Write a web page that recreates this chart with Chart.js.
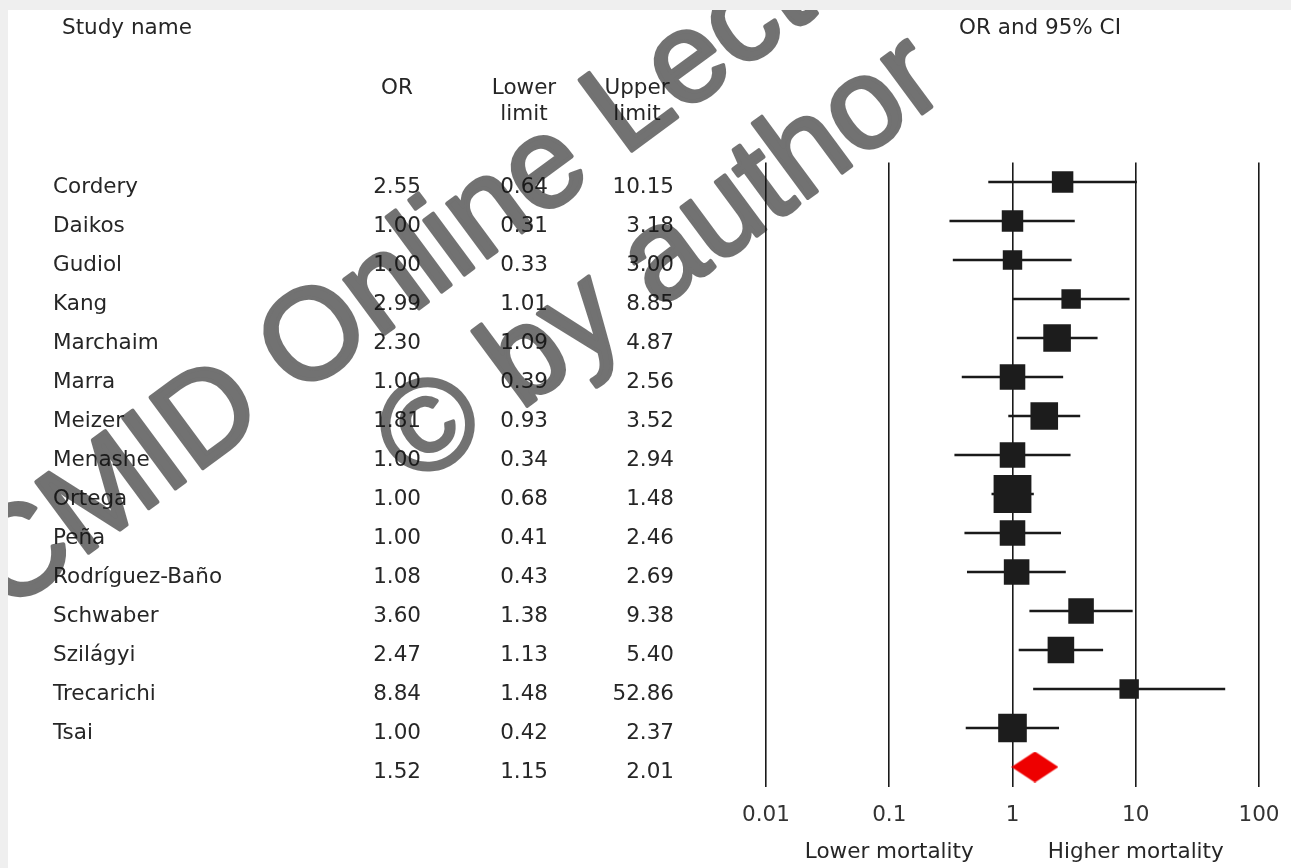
<!DOCTYPE html>
<html>
<head>
<meta charset="utf-8">
<script src="https://cdn.jsdelivr.net/npm/chart.js@4.4.1/dist/chart.umd.min.js"></script>
<style>
  html, body { margin: 0; padding: 0; width: 1291px; height: 868px; overflow: hidden; background: #efefef; }
  #wrap { position: absolute; left: 8px; top: 10px; width: 1283px; height: 858px; background: #ffffff; }
  canvas { display: block; }
</style>
</head>
<body>
<div id="wrap"><canvas id="forest" width="1283" height="858"></canvas></div>
<script>
// Per-study odds ratios with 95% confidence limits
const studies = ['Cordery', 'Daikos', 'Gudiol', 'Kang', 'Marchaim', 'Marra', 'Meizer', 'Menashe',
  'Ortega', 'Peña', 'Rodríguez-Baño', 'Schwaber', 'Szilágyi', 'Trecarichi', 'Tsai'];
const oddsRatio  = [2.55, 1.00, 1.00, 2.99, 2.30, 1.00, 1.81, 1.00, 1.00, 1.00, 1.08, 3.60, 2.47, 8.84, 1.00];
const lowerLimit = [0.64, 0.31, 0.33, 1.01, 1.09, 0.39, 0.93, 0.34, 0.68, 0.41, 0.43, 1.38, 1.13, 1.48, 0.42];
const upperLimit = [10.15, 3.18, 3.00, 8.85, 4.87, 2.56, 3.52, 2.94, 1.48, 2.46, 2.69, 9.38, 5.40, 52.86, 2.37];
// Relative study weights (%), shown as the area of each square
const studyWeight = [4.70, 4.70, 3.85, 3.85, 7.77, 6.67, 7.77, 6.67, 14.60, 6.67, 6.67, 6.67, 7.21, 3.85, 8.36];
// Pooled estimate
const pooledOR = 1.52;
const pooledLower = 1.15;
const pooledUpper = 2.01;
// Odds-ratio axis
const axisTicks = [0.01, 0.1, 1, 10, 100];
const axisTickLabels = ['0.01', '0.1', '1', '10', '100'];

const POOLED_ROW = 'Pooled';
const rows = studies.concat([POOLED_ROW]);

const TEXT = '#262626';
const FONT = '"DejaVu Sans", sans-serif';
const FONT_PX = 21.5;

// square side in px from weight (area proportional to weight)
const squareSide = w => 9.9 * Math.sqrt(w);

// red summary diamond as a point image
function makeDiamond(w, h) {
  const c = document.createElement('canvas');
  c.width = w; c.height = h;
  const g = c.getContext('2d');
  g.fillStyle = '#ee0000';
  g.beginPath();
  g.moveTo(0, h / 2);
  g.lineTo(w / 2, 0);
  g.lineTo(w, h / 2);
  g.lineTo(w / 2, h);
  g.closePath();
  g.fill();
  return c;
}
const diamond = makeDiamond(47, 31);

const fmt = v => v.toFixed(2);

// study table on the left, headers and axis captions
const tablePlugin = {
  id: 'forestTable',
  afterDraw(chart) {
    const ctx = chart.ctx;
    const y = chart.scales.y;
    const x = chart.scales.x;
    ctx.save();
    ctx.fillStyle = TEXT;
    ctx.font = FONT_PX + 'px ' + FONT;
    ctx.textBaseline = 'middle';

    // headers
    ctx.textAlign = 'left';
    ctx.fillText('Study name', 54, 18);
    ctx.textAlign = 'center';
    ctx.fillText('OR', 389, 78);
    ctx.fillText('Lower', 516, 78);
    ctx.fillText('limit', 516, 104);
    ctx.fillText('Upper', 629, 78);
    ctx.fillText('limit', 629, 104);
    ctx.fillText('OR and 95% CI', 1032, 18);

    // rows
    rows.forEach((name, i) => {
      const py = y.getPixelForValue(i) + 5;
      const isPooled = name === POOLED_ROW;
      const or = isPooled ? pooledOR : oddsRatio[i];
      const lo = isPooled ? pooledLower : lowerLimit[i];
      const hi = isPooled ? pooledUpper : upperLimit[i];
      if (!isPooled) {
        ctx.textAlign = 'left';
        ctx.fillText(name, 45, py);
      }
      ctx.textAlign = 'right';
      ctx.fillText(fmt(or), 413, py);
      ctx.fillText(fmt(lo), 540, py);
      ctx.fillText(fmt(hi), 666, py);
    });

    // direction captions under the axis
    ctx.textAlign = 'center';
    ctx.fillText('Lower mortality', x.getPixelForValue(0.1), 842);
    ctx.fillText('Higher mortality', x.getPixelForValue(10), 842);
    ctx.restore();
  }
};

// lecture watermark laid over the figure (drawn opaque on a layer, then blended)
const watermarkPlugin = {
  id: 'watermark',
  afterDraw(chart) {
    const ctx = chart.ctx;
    const layer = document.createElement('canvas');
    layer.width = chart.width;
    layer.height = chart.height;
    const g = layer.getContext('2d');
    g.fillStyle = '#141414';
    g.strokeStyle = '#141414';
    g.lineWidth = 4;
    g.lineJoin = 'round';
    g.font = '128px "Liberation Sans", sans-serif';
    g.textBaseline = 'alphabetic';
    g.textAlign = 'left';
    const ang = -36.5 * Math.PI / 180;
    const put = (text, px, py) => {
      g.save();
      g.translate(px, py);
      g.rotate(ang);
      g.fillText(text, 0, 0);
      g.strokeText(text, 0, 0);
      g.restore();
    };
    put('CMID Online Lecture', -2, 604);
    put('© by author', 408, 478);
    ctx.save();
    ctx.globalAlpha = 0.6;
    ctx.drawImage(layer, 0, 0);
    ctx.restore();
  }
};

new Chart(document.getElementById('forest'), {
  type: 'bar',
  data: {
    labels: rows,
    datasets: [
      {
        type: 'scatter',
        label: 'Odds ratio',
        data: studies.map((s, i) => ({ x: oddsRatio[i], y: s })),
        pointStyle: 'rect',
        pointRadius: studyWeight.map(w => squareSide(w) / Math.SQRT2),
        pointBackgroundColor: '#1c1c1c',
        pointBorderWidth: 0,
        showLine: false,
        order: 0
      },
      {
        type: 'scatter',
        label: 'Pooled',
        data: [{ x: pooledOR, y: POOLED_ROW }],
        pointStyle: diamond,
        showLine: false,
        order: 0
      },
      {
        label: '95% CI',
        data: rows.map((r, i) => i < studies.length ? [lowerLimit[i], upperLimit[i]] : null),
        backgroundColor: '#1a1a1a',
        barThickness: 2,
        borderWidth: 0,
        order: 1
      }
    ]
  },
  options: {
    indexAxis: 'y',
    responsive: false,
    animation: false,
    layout: { padding: { left: 758, top: 152.5, right: 32, bottom: 41.5 } },
    plugins: { legend: { display: false }, tooltip: { enabled: false } },
    scales: {
      x: {
        type: 'logarithmic',
        min: 0.01,
        max: 100,
        afterBuildTicks: sc => { sc.ticks = axisTicks.map(v => ({ value: v, major: true })); },
        afterFit: sc => { sc.height = 40; sc.paddingLeft = 0; sc.paddingRight = 0; },
        border: { display: false },
        grid: { color: '#1a1a1a', lineWidth: 1.6, drawTicks: false },
        ticks: {
          autoSkip: false,
          maxRotation: 0,
          padding: 16,
          color: '#333333',
          font: { family: FONT, size: FONT_PX },
          callback: (v, i) => axisTickLabels[i]
        }
      },
      y: {
        type: 'category',
        display: false,
        offset: true
      }
    }
  },
  plugins: [tablePlugin, watermarkPlugin]
});
</script>
</body>
</html>
